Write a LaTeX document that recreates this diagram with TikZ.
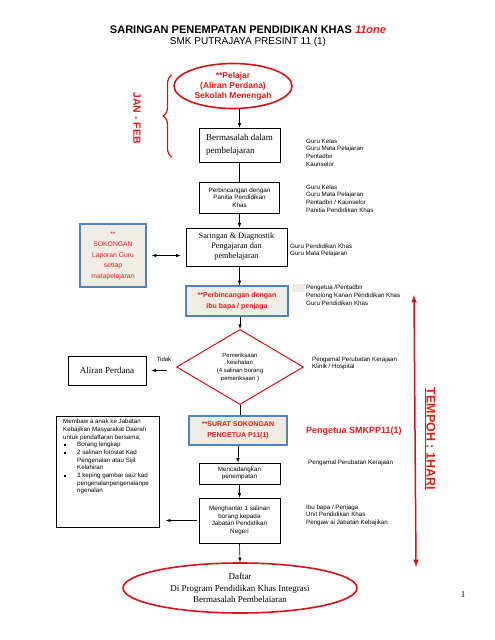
\documentclass[tikz,border=0pt]{standalone}
\usepackage{fontspec}
\setmainfont{Liberation Serif}
\setsansfont{Liberation Sans}
\usetikzlibrary{shapes,arrows,positioning,calc,decorations.pathreplacing}
\definecolor{redline}{RGB}{210,20,25}
\definecolor{redtext}{RGB}{228,28,28}
\definecolor{boxblue}{RGB}{80,130,190}
\definecolor{boxfill}{RGB}{238,236,228}
\newcommand{\listdot}{\makebox[14pt][l]{\hspace*{1pt}\rule[0.6pt]{1.8pt}{1.8pt}}}

\begin{document}
\begin{tikzpicture}[x=1pt,y=-1pt,>=latex,
	box/.style={draw, line width=0.8pt, align=center, inner sep=1pt, font=\sffamily\fontsize{6.3}{7.7}\selectfont},
	serifbox/.style={draw, line width=0.8pt, inner sep=1pt, font=\rmfamily\fontsize{9}{13}\selectfont},
	bluebox/.style={draw=boxblue, line width=1.5pt, fill=boxfill, align=center, text=redtext, font=\sffamily\bfseries\fontsize{7}{10.5}\selectfont},
	note/.style={anchor=north west, align=left, inner sep=0pt, font=\sffamily\fontsize{6.2}{7.7}\selectfont},
	flow/.style={->, line width=0.6pt}]
	\useasboundingbox (0,0) rectangle (495,640);

	% Title
	\node (title) at (248,30) {\sffamily\bfseries\fontsize{11}{13}\selectfont SARINGAN PENEMPATAN PENDIDIKAN KHAS \textcolor{redtext}{\itshape 11one}};
	\node (school) at (248,42) {\sffamily\fontsize{10}{12}\selectfont SMK PUTRAJAYA PRESINT 11 (1)};

	% Start
	\node[ellipse, draw=redline, line width=1.6pt, minimum width=118, minimum height=45, inner sep=0pt, align=center, text=redtext, font=\sffamily\bfseries\fontsize{8.5}{10}\selectfont] (pelajar) at (233,86) {**Pelajar\\(Aliran Perdana)\\Sekolah Menengah};
	\draw[redline, line width=1.2pt, decorate, decoration={brace, amplitude=9pt}] (172,157) -- (172,75);
	\node[rotate=-90, text=redtext, font=\sffamily\bfseries\fontsize{10.5}{12}\selectfont] (janfeb) at (137,118) {JAN - FEB};

	% Main column
	\node[serifbox, align=left, minimum width=81, minimum height=34] (masalah) at (239.5,145) {Bermasalah dalam\\pembelajaran};
	\node[box, minimum width=80, minimum height=31] (panitia) at (239.5,197.5) {Perbincangan dengan\\Panitia Pendidikan\\Khas};
	\node[serifbox, align=center, minimum width=101, minimum height=38, font=\rmfamily\fontsize{8.2}{10}\selectfont] (saringan) at (236.5,247) {Saringan \& Diagnostik\\Pengajaran dan\\pembelajaran};
	\node[bluebox, minimum width=102, minimum height=30] (ibubapa) at (237,301) {**Perbincangan dengan\\ibu bapa / penjaga};
	\node[diamond, draw=redline, line width=1pt, minimum width=127, minimum height=68, inner sep=0pt, align=center, font=\sffamily\fontsize{6}{7.7}\selectfont] (periksa) at (240,367) {Pemeriksaan\\kesihatan\\(4 salinan borang\\pemeriksaan )};
	\node[bluebox, minimum width=98, minimum height=29] (surat) at (238,430.5) {**SURAT SOKONGAN\\PENGETUA P11(1)};
	\node[box, minimum width=81, minimum height=21] (cadang) at (239.5,473.5) {Mencadangkan\\penempatan};
	\node[box, minimum width=81, minimum height=45] (hantar) at (239.5,520.5) {Menghantar 1 salinan\\borang kepada\\Jabatan Pendidikan\\Negeri};
	\node[ellipse, draw=redline, line width=1.6pt, minimum width=234, minimum height=50, inner sep=0pt, align=center, font=\rmfamily\fontsize{9}{11.5}\selectfont] (daftar) at (240,588) {Daftar\\Di Program Pendidikan Khas Integrasi\\Bermasalah Pembelaiaran};

	\draw[flow] (pelajar.south -| masalah) -- (masalah.north);
	\draw[line width=0.6pt] (masalah.south) -- (panitia.north);
	\draw[flow] (panitia.south) -- (panitia.south |- saringan.north);
	\draw[flow] (saringan.south -| panitia) -- (panitia |- ibubapa.north);
	\draw[flow] (ibubapa.south -| periksa) -- (periksa.north);
	\draw[line width=0.6pt] (periksa.south) -- (periksa.south |- surat.north);
	\draw[flow] (surat.south) -- (surat.south |- cadang.north);
	\draw[flow] (cadang.south) -- (hantar.north);
	\draw[flow] (hantar.south) -- (daftar.north);

	% Left side
	\node[bluebox, minimum width=66, minimum height=63, font=\sffamily\fontsize{6.8}{10.5}\selectfont] (sokongan) at (113,255.5) {**\\SOKONGAN\\Laporan Guru\\setiap\\matapelajaran};
	\draw[<->, line width=0.6pt, shorten <=5, shorten >=5] (sokongan.east) -- (sokongan.east -| saringan.west);
	\node[serifbox, minimum width=78, minimum height=29] (aliran) at (107,370.5) {Aliran Perdana};
	\draw[flow, shorten <=9, shorten >=5] (periksa.west |- aliran) -- (aliran.east);
	\node[font=\sffamily\fontsize{6}{7}\selectfont] (tidak) at (164,359) {Tidak};
	\node[draw, line width=0.8pt, anchor=north west, inner sep=0pt, minimum width=103, minimum height=111] (kebajikan) at (56,416) {};
	\node[note] (syarat) at (63,419) {Membaw a anak ke Jabatan\\Kebajikan Masyarakat Daerah\\untuk pendaftaran bersama;\\\listdot Borang lengkap\\\listdot 2 salinan fotostat Kad\\\hspace*{14pt}Pengenalan atau Sijil\\\hspace*{14pt}Kelahiran\\\listdot 3 keping gambar saiz kad\\\hspace*{14pt}pengenalanpengenalanpe\\\hspace*{14pt}ngenalan};
	\draw[flow, shorten <=2, shorten >=6] (hantar.west) -- (hantar.west -| kebajikan.east);

	% Right side
	\node[note] (peranan1) at (306,138.5) {Guru Kelas\\Guru Mata Pelajaran\\Pentadbir\\Kaunselor};
	\node[note] (peranan2) at (306,184.5) {Guru Kelas\\Guru Mata Pelajaran\\Pentadbir / Kaunselor\\Panitia Pendidikan Khas};
	\node[note] (peranan3) at (290,243.5) {Guru Pendidikan Khas\\Guru Mata Pelajaran};
	\fill[boxfill] (292,284) rectangle (305,292);
	\node[note] (peranan4) at (306,285) {Pengetua /Pentadbir\\Penolong Kanan Pendidikan Khas\\Guru Pendidikan Khas};
	\node[note] (peranan5) at (312,356.5) {Pengamal Perubatan Kerajaan\\Klinik / Hospital};
	\node[anchor=west, inner sep=0pt, text=redtext, font=\sffamily\bfseries\fontsize{9}{11}\selectfont] (pengetua) at (306,431) {Pengetua SMKPP11(1)};
	\node[note] (peranan6) at (308,459.5) {Pengamal Perubatan Kerajaan};
	\node[note] (peranan7) at (306,504.5) {Ibu bapa / Penjaga\\Unit Pendidikan Khas\\Pengaw ai Jabatan Kebajikan};

	% Tempoh
	\coordinate (tempohatas) at (414,295);
	\coordinate (tempohbawah) at (416,567);
	\draw[<->, redline, line width=1.5pt] (tempohatas) -- (tempohbawah);
	\node[rotate=-90, text=redtext, font=\sffamily\bfseries\fontsize{12.5}{14}\selectfont] (tempoh) at (430,439) {\underline{TEMPOH : 1HARI}};

	\node[font=\rmfamily\fontsize{9}{11}\selectfont] (halaman) at (463,595) {1};
\end{tikzpicture}
\end{document}
